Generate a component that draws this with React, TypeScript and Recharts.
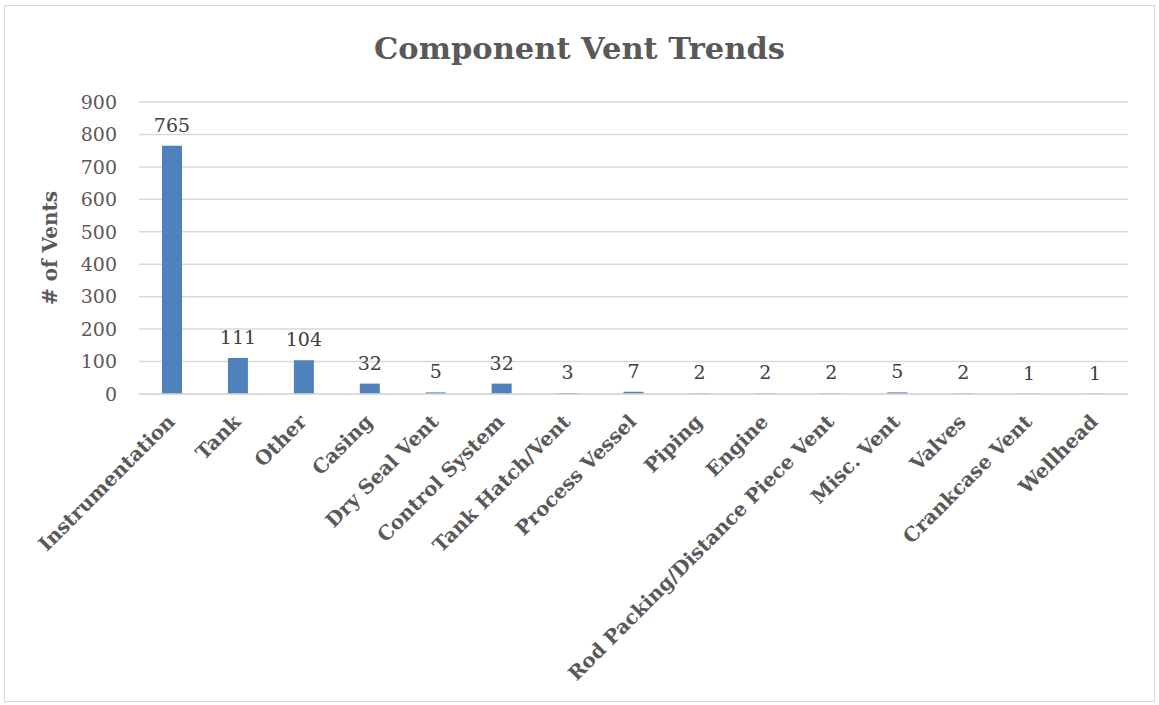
import React from 'react';
import { BarChart, Bar, XAxis, YAxis, CartesianGrid, LabelList, Label } from 'recharts';

const categories = [
  'Instrumentation', 'Tank', 'Other', 'Casing', 'Dry Seal Vent', 'Control System',
  'Tank Hatch/Vent', 'Process Vessel', 'Piping', 'Engine',
  'Rod Packing/Distance Piece Vent', 'Misc. Vent', 'Valves', 'Crankcase Vent', 'Wellhead',
];
const vents = [765, 111, 104, 32, 5, 32, 3, 7, 2, 2, 2, 5, 2, 1, 1];
const yTicks = [0, 100, 200, 300, 400, 500, 600, 700, 800, 900];

const data = categories.map((name, i) => ({ name, vents: vents[i] }));

const FONT = '"DejaVu Serif", serif';
const TEXT = '#595959';

const CatTick = (props: any) => {
  const { x, y, payload } = props;
  return (
    <g transform={`translate(${x + 4},${y + 21})`}>
      <text
        x={0}
        y={0}
        transform="rotate(-45)"
        textAnchor="end"
        fontFamily={FONT}
        fontWeight="bold"
        fontSize={19.8}
        fill={TEXT}
      >
        {payload.value}
      </text>
    </g>
  );
};

export default function App() {
  return (
    <div style={{ position: 'absolute', left: 0, top: 0, width: 1159, height: 705, background: '#fff' }}>
      <div
        style={{
          position: 'absolute', left: 4, top: 5, width: 1151, height: 697,
          border: '1px solid #d9d9d9', boxSizing: 'border-box',
        }}
      />
      <div
        style={{
          position: 'absolute', left: 0, top: 30, width: 1159, textAlign: 'center',
          fontFamily: FONT, fontWeight: 'bold', fontSize: 30.5, color: TEXT, lineHeight: '36px',
        }}
      >
        Component Vent Trends
      </div>
      <div style={{ position: 'absolute', left: 0, top: 0 }}>
        <BarChart
          width={1159}
          height={705}
          data={data}
          margin={{ top: 102, right: 31, bottom: 0, left: 0 }}
        >
          <CartesianGrid vertical={false} stroke="#d9d9d9" strokeWidth={1.5} />
          <XAxis
            dataKey="name"
            interval={0}
            height={311}
            tick={<CatTick />}
            tickLine={false}
            axisLine={{ stroke: '#d9d9d9', strokeWidth: 1.5 }}
          />
          <YAxis
            width={139}
            domain={[0, 900]}
            ticks={yTicks}
            tickLine={false}
            axisLine={false}
            tickSize={0}
            tickMargin={22}
            tick={{ fontFamily: FONT, fontSize: 19, fill: TEXT }}
          >
            <Label
              value="# of Vents"
              angle={-90}
              position="insideLeft"
              offset={50}
              style={{ fontFamily: FONT, fontWeight: 'bold', fontSize: 20, fill: TEXT, textAnchor: 'middle' }}
            />
          </YAxis>
          <Bar dataKey="vents" fill="#4f81bd" barSize={20} isAnimationActive={false}>
            <LabelList
              dataKey="vents"
              position="top"
              offset={14}
              style={{ fontFamily: FONT, fontSize: 19, fill: '#404040' }}
            />
          </Bar>
        </BarChart>
      </div>
    </div>
  );
}
